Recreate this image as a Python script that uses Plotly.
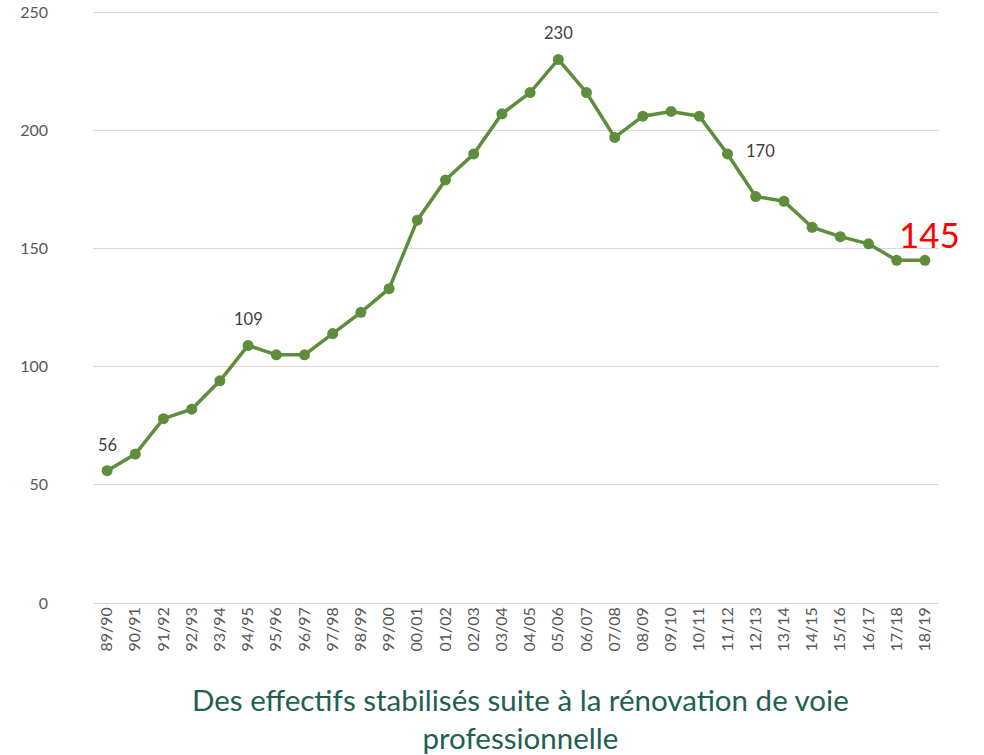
import plotly.graph_objects as go

years = ["89/90","90/91","91/92","92/93","93/94","94/95","95/96","96/97","97/98","98/99",
         "99/00","00/01","01/02","02/03","03/04","04/05","05/06","06/07","07/08","08/09",
         "09/10","10/11","11/12","12/13","13/14","14/15","15/16","16/17","17/18","18/19"]
effectifs = [56, 63, 78, 82, 94, 109, 105, 105, 114, 123,
             133, 162, 179, 190, 207, 216, 230, 216, 197, 206,
             208, 206, 190, 172, 170, 159, 155, 152, 145, 145]
y_ticks = [0, 50, 100, 150, 200, 250]

labelled = {"89/90": 56, "94/95": 109, "05/06": 230}
title_text = "Des effectifs stabilisés suite à la rénovation de voie<br>professionnelle"

green = "#5E8D3B"
font = "Lato, 'Open Sans', sans-serif"

fig = go.Figure()
fig.add_trace(go.Scatter(
    x=years, y=effectifs, mode="lines+markers",
    line=dict(color=green, width=3.5),
    marker=dict(color=green, size=11),
    hoverinfo="x+y", showlegend=False,
))

annotations = []
for k, v in labelled.items():
    annotations.append(dict(x=k, y=v, text=str(v), showarrow=False, xref="x", yref="y",
                            yanchor="middle", yshift=26,
                            font=dict(size=16.5, color="#404040", family=font)))
annotations.append(dict(x="13/14", y=170, text="170", showarrow=False, xref="x", yref="y",
                        yanchor="middle", xshift=-23, yshift=50,
                        font=dict(size=16.5, color="#404040", family=font)))
annotations.append(dict(x="18/19", y=145, text="145", showarrow=False, xref="x", yref="y",
                        yanchor="middle", xshift=5, yshift=26,
                        font=dict(size=35, color="#FF0000", family=font)))
annotations.append(dict(x=0.505, y=-0.195, xref="paper", yref="paper", text=title_text,
                        showarrow=False, xanchor="center", yanchor="middle",
                        font=dict(size=29.5, color="#22604F", family=font)))

fig.update_layout(
    width=984, height=755,
    margin=dict(l=93, r=45, t=11, b=152, autoexpand=False),
    paper_bgcolor="white", plot_bgcolor="white",
    annotations=annotations,
    font=dict(family=font),
    xaxis=dict(type="category", range=[-0.5, len(years) - 0.5], tickangle=-90,
               showgrid=False, showline=False, ticks="", automargin=False,
               tickfont=dict(size=16, color="#595959", family=font), zeroline=False),
    yaxis=dict(range=[0, 250.5], tickvals=y_ticks, showgrid=True,
               gridcolor="#D9D9D9", gridwidth=1, zeroline=True, zerolinecolor="#D9D9D9",
               zerolinewidth=1, showline=False, ticks="", ticklabelstandoff=44,
               automargin=False, ticklabeloverflow="allow",
               tickfont=dict(size=16, color="#595959", family=font)),
)

fig.write_html("out.html", config={"displayModeBar": False},
               post_script="document.body.style.margin='0';document.body.style.overflow='hidden';")
